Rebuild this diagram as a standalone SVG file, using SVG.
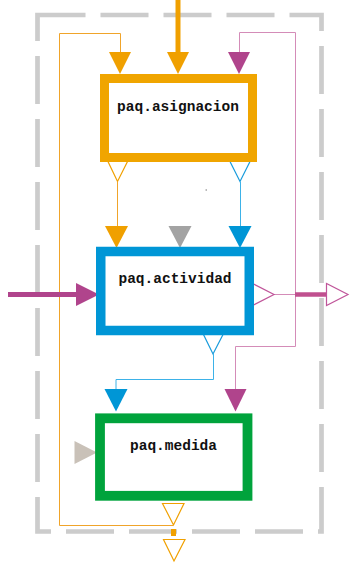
<svg xmlns="http://www.w3.org/2000/svg" width="351" height="565" viewBox="0 0 351 565">
<style>
.box{fill:#fff}
.lbl{font-family:"Liberation Mono","Courier New",monospace;font-weight:bold;font-size:14.5px;fill:#111;text-anchor:middle}
.or{fill:#F0A000}
.bl{fill:#0096D6}
.mg{fill:#B0448C}
.oo{fill:#fff;stroke:#F0A000;stroke-width:1.2}
.ob{fill:#fff;stroke:#1A9CDC;stroke-width:1.2}
.om{fill:#fff;stroke:#C0559A;stroke-width:1.2}
.tor{fill:none;stroke:#F0A42A;stroke-width:1}
.tbl{fill:none;stroke:#3DB2E8;stroke-width:1}
.tmg{fill:none;stroke:#D48CB8;stroke-width:1}
</style>
<rect id="frame" x="37.5" y="15" width="284" height="516.5" fill="none" stroke="#CCCCCC" stroke-width="4.7" stroke-dasharray="48 15"/>
<g id="connectors">
  <line x1="178" y1="0" x2="178" y2="53" stroke="#F0A000" stroke-width="5"/>
  <polygon class="or" points="167,52 189,52 178,74"/>
  <path class="tor" d="M173,525.5 H59.5 V33.5 H120.5 V53"/>
  <polygon class="or" points="109,52 131,52 120,74"/>
  <path class="tmg" d="M274,294.5 H295.5 V32.5 H239.5 V53"/>
  <polygon class="mg" points="228,52 250,52 239,74"/>
  <path class="tmg" d="M295.5,294.5 V346.5 H235.5 V390"/>
  <polygon class="mg" points="224.5,389 246.5,389 235.5,411.5"/>
  <polygon class="om" points="252.5,283.5 252.5,305.5 274,294.5"/>
  <line x1="295" y1="294.5" x2="327" y2="294.5" stroke="#C0508F" stroke-width="4.5"/>
  <polygon class="om" points="326.5,283.5 326.5,305.5 348,294.5"/>
  <polygon class="oo" points="107.5,160.5 128,160.5 117.5,181.5"/>
  <path class="tor" d="M117.5,181.5 V227"/>
  <polygon class="or" points="105,226 128,226 116.5,248"/>
  <polygon class="ob" points="229.5,160.5 250.5,160.5 240,181.5"/>
  <path class="tbl" d="M240.5,181.5 V227"/>
  <polygon class="bl" points="228.5,226 251.5,226 240,248"/>
  <polygon fill="#A3A3A3" points="168.5,226 191.5,226 180,248"/>
  <rect x="205.5" y="189.5" width="1.5" height="1" fill="#777"/>
  <line x1="8" y1="294.5" x2="78" y2="294.5" stroke="#B0448C" stroke-width="5"/>
  <polygon class="mg" points="76,283 76,306 99,294.5"/>
  <polygon class="ob" points="203.5,334.5 223,334.5 213,354"/>
  <path class="tbl" d="M213.5,354 V379.5 H116 V390"/>
  <polygon class="bl" points="104.5,389 127.5,389 116,411.5"/>
  <polygon fill="#C9C1B8" points="74.5,441 74.5,464 97,452.5"/>
  <polygon class="oo" points="162.5,503.5 184,503.5 173.5,525"/>
  <line x1="173.5" y1="529" x2="173.5" y2="536" stroke="#F0A000" stroke-width="5"/>
  <polygon class="oo" points="163.5,539.5 185,539.5 174,561"/>
</g>
<g id="asignacion">
  <rect class="box" x="104.5" y="78.5" width="148" height="79" stroke="#F0A500" stroke-width="9"/>
  <text class="lbl" x="178" y="111">paq.asignacion</text>
</g>
<g id="actividad">
  <rect class="box" x="100.75" y="251.5" width="148.5" height="79" stroke="#0096D6" stroke-width="9.5"/>
  <text class="lbl" x="175" y="283">paq.actividad</text>
</g>
<g id="medida">
  <rect class="box" x="100" y="418.3" width="147.5" height="77.5" stroke="#00A33C" stroke-width="9.8"/>
  <text class="lbl" x="173.5" y="450">paq.medida</text>
</g>
</svg>
